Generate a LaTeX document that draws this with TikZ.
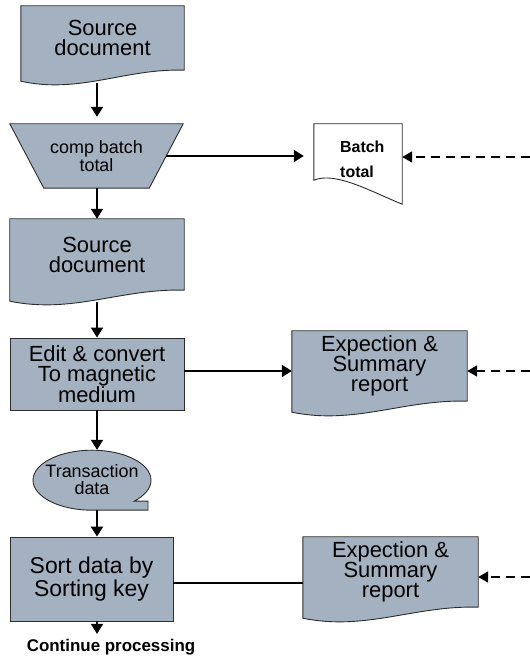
\documentclass[tikz,border=0pt]{standalone}
\usepackage{fontspec}
\setmainfont{Liberation Sans}
\usetikzlibrary{arrows.meta,calc,backgrounds}
\definecolor{boxfill}{RGB}{163,177,193}
\definecolor{boxline}{RGB}{45,45,45}

% document symbol: rectangle with a wavy lower edge (right end higher)
\newcommand\docoutline[1]{%
  (#1.north west) -- (#1.north east) -- (#1.south east)
  .. controls ($(#1.south east)!0.36!(#1.south west)+(0,2)$)
  and ($(#1.south east)!0.64!(#1.south west)+(0,-24)$)
  .. ($(#1.south west)+(0,-11)$) -- cycle}

\begin{document}
\begin{tikzpicture}[x=1bp,y=1bp,
  frame/.style={draw=none,inner sep=0pt,align=center},
  shapefill/.style={fill=boxfill,draw=boxline,line width=0.9bp},
  bigtext/.style={font=\fontsize{22}{20}\selectfont},
  smalltext/.style={font=\fontsize{18}{18}\selectfont},
  flow/.style={line width=2bp,-{Triangle[width=12bp,length=10bp]}},
  link/.style={line width=1.8bp},
  feed/.style={line width=1.8bp,dash pattern=on 9bp off 6bp,-{Triangle[width=11bp,length=10bp]}}
]
\useasboundingbox (0,0) rectangle (530,657);

% ---- nodes ----
\node[frame,bigtext,minimum width=163bp,minimum height=64bp] (src1) at (102.5,619) {Source\\document};
\node[frame,smalltext,minimum width=173bp,minimum height=64bp] (trap) at (96.5,501) {comp batch\\total};
\node[frame,minimum width=88bp,minimum height=56bp] (bt) at (358,505) {};
\node[draw=none,inner sep=0pt,anchor=west,align=left,font=\fontsize{16}{25}\selectfont\bfseries] (btlabel) at (340,497.5) {Batch\\total};
\node[frame,bigtext,minimum width=174bp,minimum height=71bp] (src2) at (97,402.5) {Source\\document};
\node[shapefill,bigtext,align=center,inner sep=0pt,minimum width=174bp,minimum height=72bp] (edit) at (97,283) {Edit \& convert\\To magnetic\\medium};
\node[frame,bigtext,minimum width=175bp,minimum height=70bp] (exp1) at (379.5,291) {Expection \&\\Summary\\report};
\node[frame,font=\fontsize{18}{17}\selectfont,minimum width=118bp,minimum height=60bp] (tape) at (92,177) {Transaction\\data};
\node[shapefill,font=\fontsize{23}{20}\selectfont,align=center,inner sep=0pt,minimum width=163bp,minimum height=84bp] (sort) at (91.5,78) {Sort data by\\Sorting key};
\node[frame,bigtext,minimum width=175bp,minimum height=70bp] (exp2) at (390.5,85) {Expection \&\\Summary\\report};
\node[draw=none,inner sep=1bp,font=\fontsize{17}{17}\selectfont\bfseries] (cont) at (111,10) {Continue processing};

\coordinate (in1) at (530,500);
\coordinate (in2) at (530,286);
\coordinate (in3) at (530,80);

% ---- symbol outlines ----
\begin{pgfonlayer}{background}
  \path[shapefill] \docoutline{src1};
  \path[shapefill] (trap.north west) -- (trap.north east)
     -- ($(trap.south east)+(-34,0)$) -- ($(trap.south west)+(34,0)$) -- cycle;
  \path[fill=white,draw=boxline,line width=0.9bp] (bt.north west) -- (bt.north east)
     -- ($(bt.south east)+(0,-24)$)
     .. controls ($(bt.south east)+(-32,-11)$) and ($(bt.south east)+(-67,9)$)
     .. (bt.south west) -- cycle;
  \path[shapefill] \docoutline{src2};
  \path[shapefill] \docoutline{exp1};
  \path[shapefill] (tape.south) arc[start angle=-90,end angle=-404.4,x radius=59,y radius=30]
     -- ($(tape.south)+(56,9)$) -- ($(tape.south)+(56,0)$) -- cycle;
  \path[shapefill] \docoutline{exp2};
\end{pgfonlayer}

% ---- main flow ----
\draw[flow] ($(src1.south -| edit.south)+(0,-13)$) -- ($(trap.north -| edit.south)+(0,7)$);
\draw[flow] (trap.south -| edit.south) -- (src2.north -| edit.south);
\draw[flow] ($(src2.south -| edit.south)+(0,-12)$) -- (edit.north);
\draw[flow] (edit.south) -- (edit.south |- tape.north);
\draw[flow] (edit.south |- tape.south) -- (edit.south |- sort.north);
\draw[flow] (edit.south |- sort.south) -- ($(edit.south |- cont.north)+(0,4)$);

% ---- side outputs ----
\draw[flow] ($(trap.east)+(-17,0)$) -- ($(bt.west |- trap.east)+(-10,0)$);
\draw[flow] ([yshift=3bp]edit.east) -- ([yshift=3bp]edit.east -| exp1.west);
\draw[link] ([yshift=-4bp]sort.east) -- ([yshift=-4bp]sort.east -| exp2.west);

% ---- incoming dashed feeds ----
\draw[feed] (in1) -- (in1 -| bt.east);
\draw[feed] (in2) -- (in2 -| exp1.east);
\draw[feed] (in3) -- (in3 -| exp2.east);
\end{tikzpicture}
\end{document}
